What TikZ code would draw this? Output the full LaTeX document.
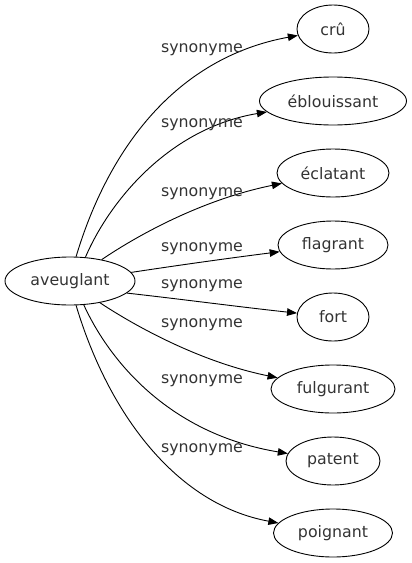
\documentclass[tikz,border=0pt]{standalone}
\usepackage{fontspec}
\setmainfont{DejaVu Sans}
\usetikzlibrary{shapes.geometric,arrows.meta}
\definecolor{txt}{rgb}{0.2,0.2,0.2}
\begin{document}
\begin{tikzpicture}[x=1pt,y=-1pt,
  word/.style={ellipse,draw,line width=0.9pt,inner sep=0pt,minimum height=48pt,font=\fontsize{15.8}{18}\selectfont,text=txt},
  lbl/.style={inner sep=0pt,font=\fontsize{15.8}{18}\selectfont,text=txt},
  edge/.style={line width=0.9pt,-{Triangle[length=10pt,width=7.5pt]}}]
\useasboundingbox (0,0) rectangle (412,563);
\node[word,minimum width=130pt] (av) at (70,281) {aveuglant};
\node[word,minimum width=72pt] (cru) at (333,29) {crû};
\node[word,minimum width=147pt] (ebl) at (333,101) {éblouissant};
\node[word,minimum width=112pt] (ecl) at (333,173) {éclatant};
\node[word,minimum width=110pt] (fla) at (333,245) {flagrant};
\node[word,minimum width=72pt] (for) at (333,317) {fort};
\node[word,minimum width=124pt] (ful) at (333,389) {fulgurant};
\node[word,minimum width=94pt] (pat) at (333,461) {patent};
\node[word,minimum width=119pt] (poi) at (333,533) {poignant};
\draw[edge] (av.76) .. controls (108,150) and (175,58) .. (cru);
\draw[edge] (av.57) .. controls (110,200) and (170,128) .. (ebl);
\draw[edge] (av.34) .. controls (135,237) and (200,200) .. (ecl);
\draw[edge] (av.8) .. controls (180,265) and (230,258) .. (fla);
\draw[edge] (av.-12) .. controls (180,299) and (240,307) .. (for);
\draw[edge] (av.-36) .. controls (135,326) and (200,362) .. (ful);
\draw[edge] (av.-60) .. controls (110,362) and (170,434) .. (pat);
\draw[edge] (av.-76) .. controls (108,412) and (175,504) .. (poi);
\node[lbl] (l1) at (202,50) {synonyme};
\node[lbl] (l2) at (202,125) {synonyme};
\node[lbl] (l3) at (202,194) {synonyme};
\node[lbl] (l4) at (202,249) {synonyme};
\node[lbl] (l5) at (202,286) {synonyme};
\node[lbl] (l6) at (202,325) {synonyme};
\node[lbl] (l7) at (202,381) {synonyme};
\node[lbl] (l8) at (202,450) {synonyme};
\end{tikzpicture}
\end{document}
